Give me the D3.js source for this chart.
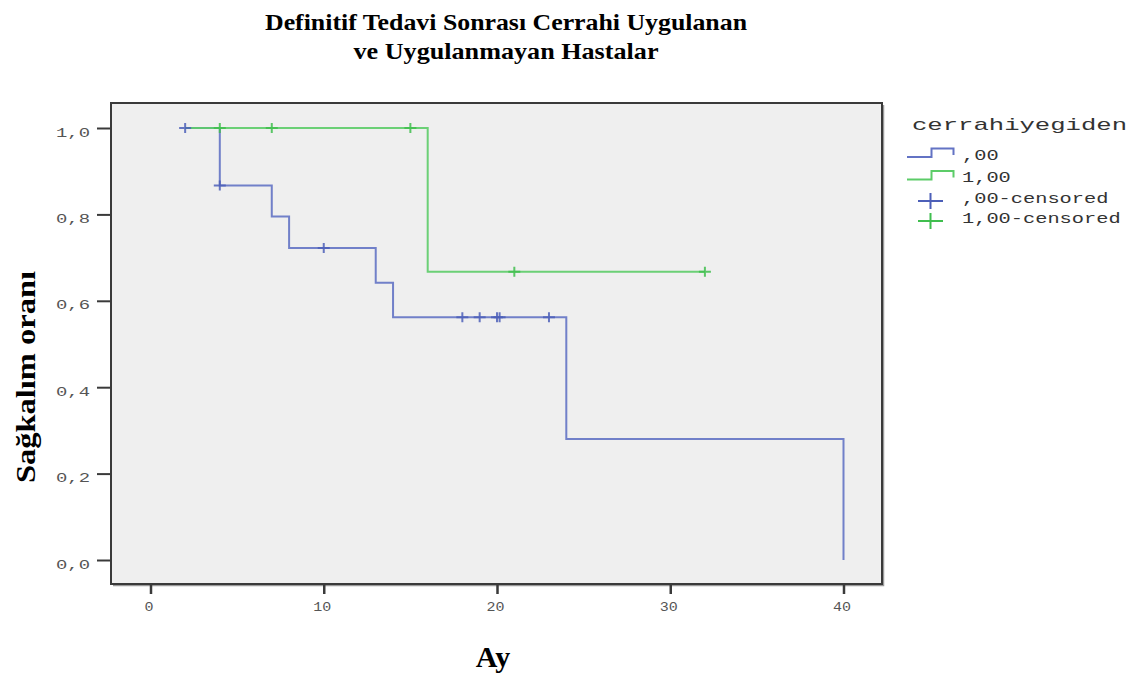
<!DOCTYPE html>
<html>
<head>
<meta charset="utf-8">
<script src="https://cdn.jsdelivr.net/npm/d3@7"></script>
<style>
  body { margin: 0; background: #fff; }
  svg { display: block; }
</style>
</head>
<body>
<svg id="chart" width="1135" height="677"></svg>
<script>
// ---- Data ----
const titleLines = ["Definitif Tedavi Sonrası Cerrahi Uygulanan", "ve Uygulanmayan Hastalar"];
const xLabel = "Ay";
const yLabel = "Sağkalım oranı";
const legendTitle = "cerrahiyegiden";
const groupNames = [",00", "1,00"];
const censoredNames = [",00-censored", "1,00-censored"];

// Step curves: time and survival after that time
const group0Times = [2, 4, 7, 8, 13, 14, 24, 40];
const group0Surv  = [1.0, 0.867, 0.795, 0.722, 0.642, 0.562, 0.280, 0.0];
const group0CensorTimes = [2, 4, 10, 18, 19, 20, 20.15, 23];

const group1Times = [2, 16, 32];
const group1Surv  = [1.0, 0.667, 0.667];
const group1CensorTimes = [4, 7, 15, 21, 32];

const xTicks = [0, 10, 20, 30, 40];
const yTicks = [0, 0.2, 0.4, 0.6, 0.8, 1.0];
const yTickLabels = ["0,0", "0,2", "0,4", "0,6", "0,8", "1,0"];

// ---- Layout ----
const svg = d3.select("#chart");
const frame = { left: 111, top: 103, right: 882, bottom: 584 };
const x = d3.scaleLinear().domain([0, 40]).range([150.5, 843.5]);
const y = d3.scaleLinear().domain([0, 1]).range([560, 128]);

const mono = "'Liberation Mono', 'Courier New', monospace";
const serif = "'Liberation Serif', 'Times New Roman', serif";

// Title
const titleWidths = [482, 305];
svg.selectAll("text.title").data(titleLines).join("text")
  .attr("class", "title")
  .attr("x", 506)
  .attr("y", (d, i) => 30 + i * 29)
  .attr("text-anchor", "middle")
  .attr("font-family", serif)
  .attr("font-weight", "bold")
  .attr("font-size", 24)
  .attr("fill", "#000")
  .attr("textLength", (d, i) => titleWidths[i]).attr("lengthAdjust", "spacingAndGlyphs")
  .text(d => d);

// Plot background
svg.append("rect")
  .attr("x", frame.left).attr("y", frame.top)
  .attr("width", frame.right - frame.left).attr("height", frame.bottom - frame.top)
  .attr("fill", "#efefef");

// Frame with shadow
svg.append("path")
  .attr("d", `M${frame.right + 1.5},${frame.top + 2}V${frame.bottom + 1.5}H${frame.left + 2}`)
  .attr("fill", "none").attr("stroke", "#9a9a9a").attr("stroke-width", 1.5);
svg.append("rect")
  .attr("x", frame.left).attr("y", frame.top)
  .attr("width", frame.right - frame.left).attr("height", frame.bottom - frame.top)
  .attr("fill", "none").attr("stroke", "#3a3a3a").attr("stroke-width", 2);

// Y axis
const yAxis = d3.axisLeft(y).tickValues(yTicks).tickSize(13).tickFormat((d, i) => yTickLabels[i]).tickPadding(7);
const gy = svg.append("g").attr("transform", `translate(${frame.left - 1},0)`).call(yAxis);
gy.select(".domain").remove();
gy.selectAll(".tick line").attr("stroke", "#3a3a3a").attr("stroke-width", 2);
gy.selectAll(".tick text")
  .attr("font-family", mono).attr("font-size", 13).attr("fill", "#555")
  .attr("dy", "0.62em")
  .attr("textLength", 34).attr("lengthAdjust", "spacingAndGlyphs");

// X axis
const xAxis = d3.axisBottom(x).tickValues(xTicks).tickSize(10).tickFormat(d => String(d)).tickPadding(8);
const gx = svg.append("g").attr("transform", `translate(0,${frame.bottom})`).call(xAxis);
gx.select(".domain").remove();
gx.selectAll(".tick line").attr("stroke", "#3a3a3a").attr("stroke-width", 2.5);
gx.selectAll(".tick text")
  .attr("font-family", mono).attr("font-size", 12).attr("fill", "#555")
  .attr("dx", -2)
  .attr("textLength", d => String(d).length * 9).attr("lengthAdjust", "spacingAndGlyphs");

// Axis titles
svg.append("text")
  .attr("transform", "translate(35,377) rotate(-90)")
  .attr("text-anchor", "middle")
  .attr("font-family", serif).attr("font-weight", "bold").attr("font-size", 27)
  .attr("textLength", 212).attr("lengthAdjust", "spacingAndGlyphs")
  .text(yLabel);
svg.append("text")
  .attr("x", 493).attr("y", 667)
  .attr("text-anchor", "middle")
  .attr("font-family", serif).attr("font-weight", "bold").attr("font-size", 30)
  .text(xLabel);

// Curves
const blue = "#6373c4";
const blueDark = "#4c5fb8";
const green = "#5ccc68";
const greenDark = "#3fbe4e";

function stepPoints(times, surv) {
  const pts = [[times[0], surv[0]]];
  for (let i = 1; i < times.length; i++) {
    pts.push([times[i], surv[i - 1]]);
    pts.push([times[i], surv[i]]);
  }
  return pts;
}
const line = d3.line().x(d => x(d[0])).y(d => y(d[1]));

function survAt(times, surv, t) {
  let s = surv[0];
  for (let i = 0; i < times.length; i++) if (times[i] <= t) s = surv[i];
  return s;
}

const groups = [
  { times: group0Times, surv: group0Surv, cens: group0CensorTimes, color: blue, dark: blueDark },
  { times: group1Times, surv: group1Surv, cens: group1CensorTimes, color: green, dark: greenDark }
];

groups.forEach(g => {
  svg.append("path")
    .attr("d", line(stepPoints(g.times, g.surv)))
    .attr("fill", "none").attr("stroke", g.color).attr("stroke-width", 2)
    .attr("stroke-opacity", 0.9);
});
groups.forEach(g => {
  const cg = svg.append("g");
  g.cens.forEach(t => {
    const cx = x(t);
    const cy = y(survAt(g.times, g.surv, t));
    cg.append("path")
      .attr("d", `M${cx - 6},${cy}H${cx + 6}M${cx},${cy - 5}V${cy + 5}`)
      .attr("stroke", g.dark).attr("stroke-width", 2).attr("fill", "none").attr("stroke-opacity", 0.85);
  });
});

// Legend
svg.append("text")
  .attr("x", 912).attr("y", 130)
  .attr("font-family", mono).attr("font-size", 17).attr("fill", "#333")
  .attr("textLength", 215).attr("lengthAdjust", "spacingAndGlyphs")
  .text(legendTitle);

const legendRows = [
  { label: groupNames[0], type: "step", color: blue, y: 157 },
  { label: groupNames[1], type: "step", color: green, y: 179.5 },
  { label: censoredNames[0], type: "cross", color: blueDark, y: 201 },
  { label: censoredNames[1], type: "cross", color: greenDark, y: 221 }
];
const baselines = [159.5, 181.7, 203.3, 223.3];
legendRows.forEach((r, i) => {
  if (r.type === "step") {
    svg.append("path")
      .attr("d", `M907,${r.y}H931.5V${r.y - 8.5}H953.5V${r.y - 2}`)
      .attr("fill", "none").attr("stroke", r.color).attr("stroke-width", 2);
  } else {
    svg.append("path")
      .attr("d", `M918,${r.y}H943M930.5,${r.y - 8}V${r.y + 8}`)
      .attr("fill", "none").attr("stroke", r.color).attr("stroke-width", 2);
  }
  svg.append("text")
    .attr("x", 962).attr("y", baselines[i])
    .attr("font-family", mono).attr("font-size", 14.5).attr("fill", "#333")
    .attr("textLength", r.label.length * 12.2).attr("lengthAdjust", "spacingAndGlyphs")
    .text(r.label);
});
</script>
</body>
</html>
